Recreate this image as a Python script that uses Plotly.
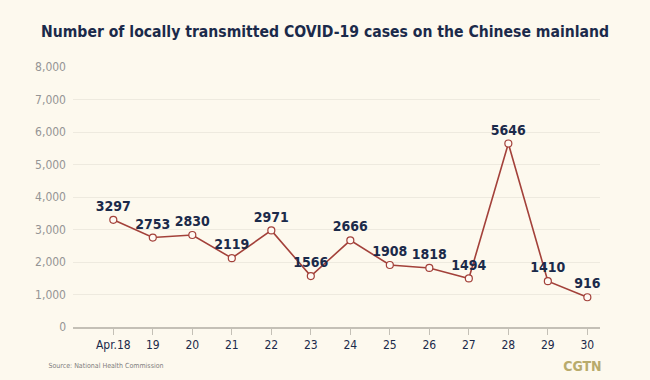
import plotly.graph_objects as go

dates = ["Apr.18", "19", "20", "21", "22", "23", "24", "25", "26", "27", "28", "29", "30"]
cases = [3297, 2753, 2830, 2119, 2971, 1566, 2666, 1908, 1818, 1494, 5646, 1410, 916]
y_ticks = [0, 1000, 2000, 3000, 4000, 5000, 6000, 7000, 8000]

BG = "#fdf9ee"
NAVY = "#1b2a4a"
RED = "#a3413a"
FONT = "DejaVu Sans"

xs = list(range(len(dates)))

fig = go.Figure()
fig.add_trace(go.Scatter(
    x=xs, y=cases, mode="lines+markers+text",
    line=dict(color=RED, width=1.6),
    marker=dict(size=7, color="#fffaf4", line=dict(color=RED, width=1.2)),
    text=[str(v) for v in cases], textposition="top center",
    textfont=dict(family=FONT, size=14, color=NAVY, weight="bold"),
    cliponaxis=False, hoverinfo="skip", showlegend=False,
))

fig.update_layout(
    width=650, height=380,
    paper_bgcolor=BG, plot_bgcolor=BG,
    margin=dict(l=73, r=50, t=67, b=53),
    title=dict(text="<b>Number of locally transmitted COVID-19 cases on the Chinese mainland</b>",
               x=0.5, xanchor="center", y=0.918, yanchor="middle",
               font=dict(family=FONT, size=15.6, color=NAVY)),
    xaxis=dict(range=[-1.02, 12.32], tickmode="array", tickvals=xs, ticktext=dates,
               showgrid=False, zeroline=False, showline=True, linecolor="#c4c0b6", linewidth=1.5,
               ticks="outside", ticklen=6, tickcolor="#c4c0b6",
               tickfont=dict(family=FONT, size=12, color=NAVY)),
    yaxis=dict(range=[0, 8000], tickmode="array", tickvals=y_ticks, tickformat=",",
               showgrid=True, gridcolor="#eeeadf", gridwidth=1, zeroline=False,
               showline=False, ticks="", ticklabelstandoff=6,
               tickfont=dict(family=FONT, size=12, color="#959595")),
    annotations=[
        dict(text="Source: National Health Commission", xref="paper", yref="paper",
             x=-0.062, y=-0.151, xanchor="left", yanchor="middle", showarrow=False,
             font=dict(family=FONT, size=7, color="#7d7d7d")),
        dict(text="<b>CGTN</b>", xref="paper", yref="paper",
             x=1.012, y=-0.151, xanchor="right", yanchor="middle", showarrow=False,
             font=dict(family=FONT, size=14, color="#b8ab6c")),
    ],
)

css_js = (
    "document.body.style.margin='0';document.body.style.padding='0';"
    "var s=document.createElement('style');"
    "s.textContent='.main-svg text{font-stretch:condensed !important;}';"
    "document.head.appendChild(s);"
)
fig.write_html("out.html", config={"displayModeBar": False}, post_script=css_js)
